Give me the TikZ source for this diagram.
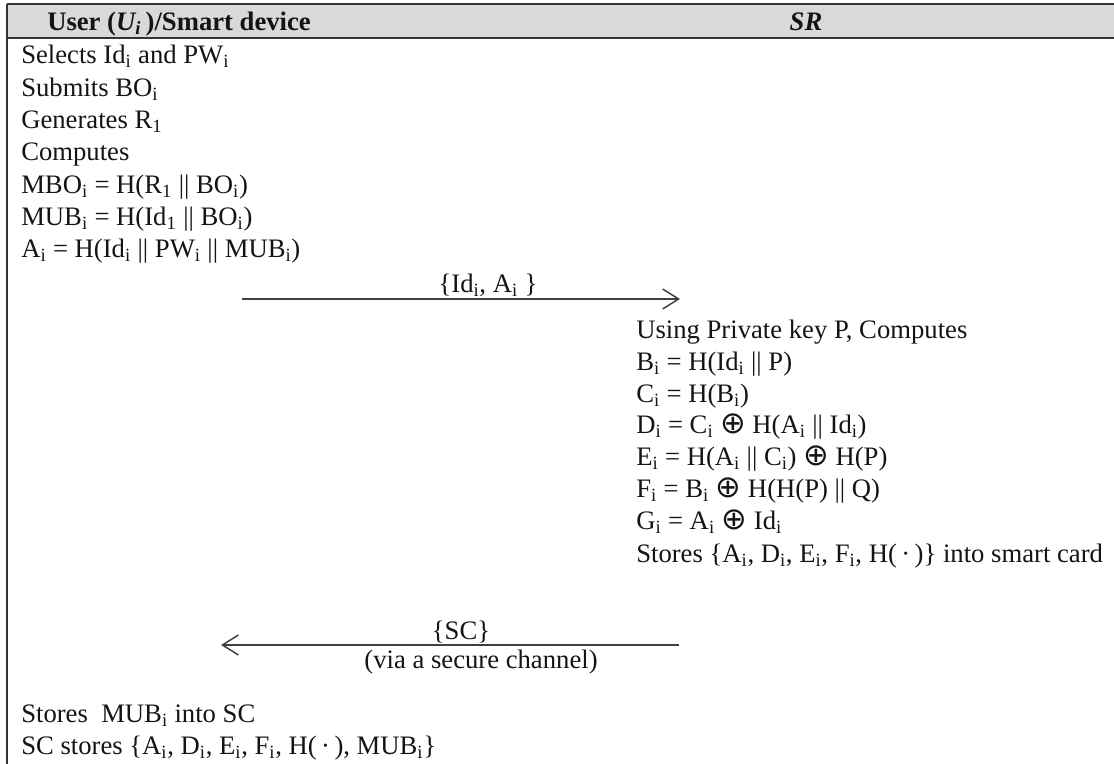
\documentclass[tikz,border=0pt]{standalone}
\usepackage{fontspec}
\setmainfont{Liberation Serif}
\newfontfamily\symf{DejaVu Sans}
\usetikzlibrary{arrows.meta}
\newcommand{\sbs}[1]{\textsubscript{#1}}
\newcommand{\xo}{{\symf\fontsize{23}{23}\selectfont ⊕}}
\begin{document}
\begin{tikzpicture}[x=0.75pt,y=-0.75pt,
  txt/.style={anchor=base west, inner sep=0pt, text=black!92,
              font=\fontsize{20}{24}\selectfont},
  head/.style={txt, font=\fontsize{20}{24}\selectfont\bfseries},
  lbl/.style={txt, anchor=base},
  rule/.style={draw=black!80, line width=1.4pt},
  msg/.style={draw=black!75, line width=1.1pt,
              -{Straight Barb[length=12pt,width=15pt,line width=1.1pt]}}]
\useasboundingbox (0,0) rectangle (1114,764);

% header band and frame
\fill[gray!30] (7,4) rectangle (1114,38);
\draw[rule] (7,4) -- (1114,4);
\draw[rule] (7,38) -- (1114,38);
\draw[rule] (7,4) -- (7,764);

\node[head] (hu) at (47,30) {User (\textit{U\textsubscript{i}}\,)/Smart device};
\node[head, anchor=base] (hs) at (806,30) {\textit{SR}};

% user side: registration request
\node[txt] (u1) at (21,63)  {Selects Id\sbs{i} and PW\sbs{i}};
\node[txt] (u2) at (21,96)  {Submits BO\sbs{i}};
\node[txt] (u3) at (21,128) {Generates R\sbs{1}};
\node[txt] (u4) at (21,160) {Computes};
\node[txt] (u5) at (21,193) {MBO\sbs{i} = H(R\sbs{1} || BO\sbs{i})};
\node[txt] (u6) at (21,225) {MUB\sbs{i} = H(Id\sbs{1} || BO\sbs{i})};
\node[txt] (u7) at (21,257) {A\sbs{i} = H(Id\sbs{i} || PW\sbs{i} || MUB\sbs{i})};

% message to SR
\coordinate (m1s) at (242,299);
\coordinate (m1e) at (680,299);
\draw[msg] (m1s) -- (m1e);
\node[lbl] (m1l) at (488,292) {\{Id\sbs{i}, A\sbs{i} \}};

% SR side: smart card issue
\node[txt] (s1) at (636,338) {Using Private key P, Computes};
\node[txt] (s2) at (636,370) {B\sbs{i} = H(Id\sbs{i} || P)};
\node[txt] (s3) at (636,402) {C\sbs{i} = H(B\sbs{i})};
\node[txt] (s4) at (636,433) {D\sbs{i} = C\sbs{i} \xo{} H(A\sbs{i} || Id\sbs{i})};
\node[txt] (s5) at (636,465) {E\sbs{i} = H(A\sbs{i} || C\sbs{i}) \xo{} H(P)};
\node[txt] (s6) at (636,497) {F\sbs{i} = B\sbs{i} \xo{} H(H(P) || Q)};
\node[txt] (s7) at (636,529) {G\sbs{i} = A\sbs{i} \xo{} Id\sbs{i}};
\node[txt] (s8) at (636,562) {Stores \{A\sbs{i}, D\sbs{i}, E\sbs{i}, F\sbs{i}, H(\,·\,)\} into smart card};

% message back to the user
\coordinate (m2s) at (679,645);
\coordinate (m2e) at (221,645);
\draw[msg] (m2s) -- (m2e);
\node[lbl] (m2l) at (461,639) {\{SC\}};
\node[lbl] (m2n) at (481,668) {(via a secure channel)};

% user side: storing
\node[txt] (u8) at (21,722) {Stores~ MUB\sbs{i} into SC};
\node[txt] (u9) at (21,754) {SC stores \{A\sbs{i}, D\sbs{i}, E\sbs{i}, F\sbs{i}, H(\,·\,), MUB\sbs{i}\}};
\end{tikzpicture}
\end{document}
